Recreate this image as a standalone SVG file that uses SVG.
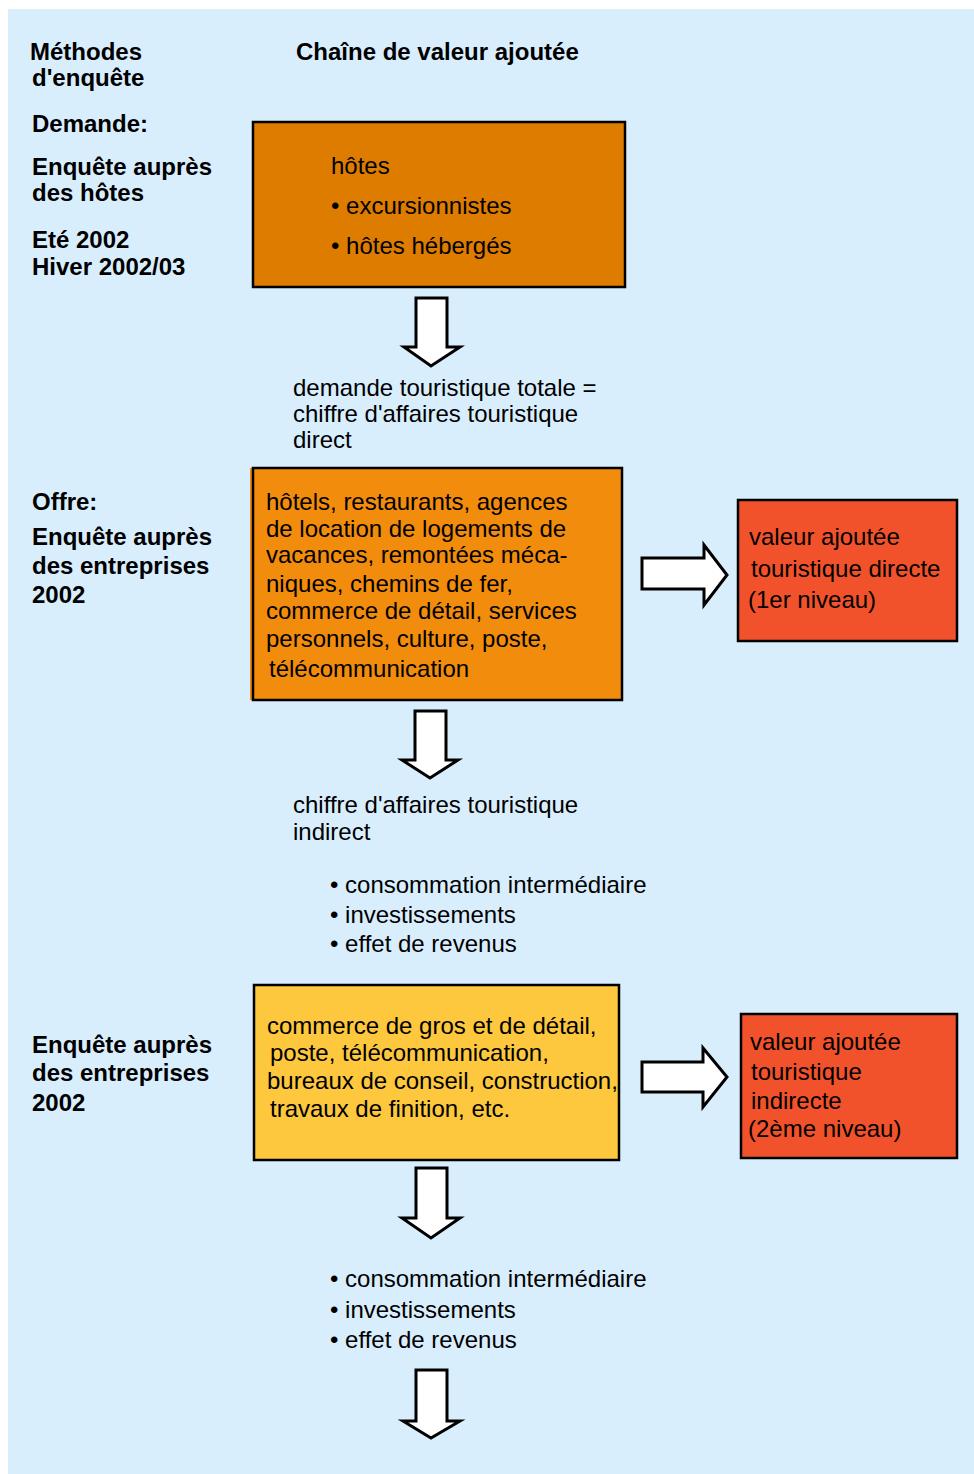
<svg xmlns="http://www.w3.org/2000/svg" width="974" height="1474" viewBox="0 0 974 1474">
<style>
.b{font-family:"Liberation Sans",Arial,sans-serif;font-size:24px;font-weight:bold;fill:#000}
.t{font-family:"Liberation Sans",Arial,sans-serif;font-size:24px;fill:#000}
.box{stroke:#000;stroke-width:2.5}
.arr{fill:#fff;stroke:#000;stroke-width:3;stroke-linejoin:miter}
</style>
<rect x="0" y="0" width="974" height="1474" fill="#fff"/>
<rect x="8" y="9" width="966" height="1465" fill="#D9EEFD"/>
<g id="labels">
<text class="b" x="30" y="60">Méthodes</text>
<text class="b" x="32" y="86">d'enquête</text>
<text class="b" x="296" y="60">Chaîne de valeur ajoutée</text>
<text class="b" x="32" y="132">Demande:</text>
<text class="b" x="32" y="175">Enquête auprès</text>
<text class="b" x="32" y="201">des hôtes</text>
<text class="b" x="32" y="248">Eté 2002</text>
<text class="b" x="32" y="275">Hiver 2002/03</text>
<text class="b" x="32" y="510">Offre:</text>
<text class="b" x="32" y="545">Enquête auprès</text>
<text class="b" x="32" y="574">des entreprises</text>
<text class="b" x="32" y="603">2002</text>
<text class="b" x="32" y="1053">Enquête auprès</text>
<text class="b" x="32" y="1081">des entreprises</text>
<text class="b" x="32" y="1111">2002</text>
</g>
<g id="node-hotes">
<rect class="box" x="253" y="122" width="372" height="165" fill="#DE7C00"/>
<text class="t" x="331" y="174">hôtes</text>
<text class="t" x="331" y="214">• excursionnistes</text>
<text class="t" x="331" y="254">• hôtes hébergés</text>
</g>
<g id="text-demande">
<text class="t" x="293" y="396">demande touristique totale =</text>
<text class="t" x="293" y="422">chiffre d'affaires touristique</text>
<text class="t" x="293" y="448">direct</text>
</g>
<g id="node-offre">
<rect x="250" y="468" width="372" height="232" fill="#F28C0D"/>
<rect class="box" x="253" y="468" width="369" height="232" fill="#F28C0D"/>
<text class="t" x="266" y="510">hôtels, restaurants, agences</text>
<text class="t" x="266" y="537">de location de logements de</text>
<text class="t" x="266" y="563">vacances, remontées méca-</text>
<text class="t" x="266" y="592">niques, chemins de fer,</text>
<text class="t" x="266" y="619">commerce de détail, services</text>
<text class="t" x="266" y="647">personnels, culture, poste,</text>
<text class="t" x="269" y="677">télécommunication</text>
</g>
<g id="node-direct">
<rect class="box" x="738" y="500" width="219" height="141" fill="#F2522B"/>
<text class="t" x="749" y="545">valeur ajoutée</text>
<text class="t" x="751" y="577">touristique directe</text>
<text class="t" x="748" y="608">(1er niveau)</text>
</g>
<g id="text-indirect">
<text class="t" x="293" y="813">chiffre d'affaires touristique</text>
<text class="t" x="293" y="840">indirect</text>
<text class="t" x="330" y="893">• consommation intermédiaire</text>
<text class="t" x="330" y="923">• investissements</text>
<text class="t" x="330" y="952">• effet de revenus</text>
</g>
<g id="node-gros">
<rect class="box" x="254" y="985" width="365" height="175" fill="#FDC73E"/>
<text class="t" x="267" y="1034">commerce de gros et de détail,</text>
<text class="t" x="270" y="1061">poste, télécommunication,</text>
<text class="t" x="267" y="1089">bureaux de conseil, construction,</text>
<text class="t" x="270" y="1117">travaux de finition, etc.</text>
</g>
<g id="node-indirecte">
<rect class="box" x="741" y="1014" width="216" height="144" fill="#F2522B"/>
<text class="t" x="750" y="1050">valeur ajoutée</text>
<text class="t" x="751" y="1080">touristique</text>
<text class="t" x="751" y="1109">indirecte</text>
<text class="t" x="748" y="1137">(2ème niveau)</text>
</g>
<g id="text-bottom">
<text class="t" x="330" y="1287">• consommation intermédiaire</text>
<text class="t" x="330" y="1318">• investissements</text>
<text class="t" x="330" y="1348">• effet de revenus</text>
</g>
<g id="connectors">
<polygon class="arr" points="416,298 447,298 447,347 460,347 431,366 404,347 416,347"/>
<polygon class="arr" points="415,711 446,711 446,760 458,760 430,778 402,760 415,760"/>
<polygon class="arr" points="416,1168 447,1168 447,1218 460,1218 431,1238 402,1218 416,1218"/>
<polygon class="arr" points="416,1370 447,1370 447,1421 460,1421 431,1438 403,1421 416,1421"/>
<polygon class="arr" points="642,558 704,558 704,545 727,575 704,605 704,589 642,589"/>
<polygon class="arr" points="642,1062 703,1062 703,1048 727,1077 703,1107 703,1092 642,1092"/>
</g>
</svg>
